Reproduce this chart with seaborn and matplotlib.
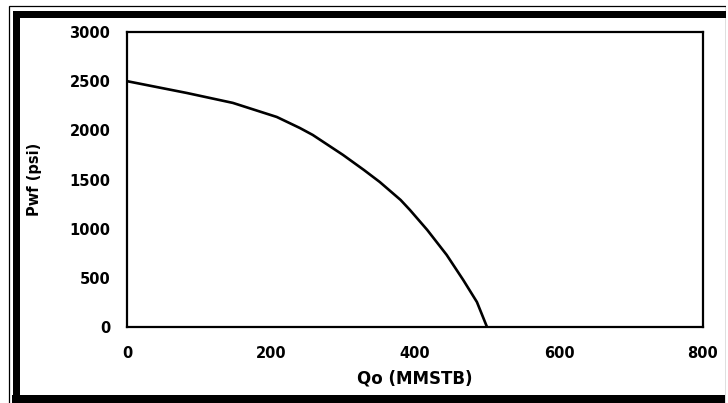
import numpy as np
import pandas as pd
import matplotlib
matplotlib.use("Agg")
import matplotlib.pyplot as plt
import seaborn as sns
from matplotlib.patches import Rectangle

# values
qo = [0, 83, 147, 208, 240, 258, 300, 329, 351, 380, 393, 417, 444, 467, 486, 500]
pwf = [2500, 2380, 2279, 2136, 2024, 1953, 1750, 1597, 1475, 1292, 1190, 987, 733, 478, 254, 0]

x_ticks = [0, 200, 400, 600, 800]
y_ticks = [0, 500, 1000, 1500, 2000, 2500, 3000]

df = pd.DataFrame({"Qo": qo, "Pwf": pwf})

sns.set_style("white")
plt.rcParams["font.family"] = ["DejaVu Sans"]
plt.rcParams["text.color"] = "black"
plt.rcParams["axes.labelcolor"] = "black"
plt.rcParams["xtick.color"] = "black"
plt.rcParams["ytick.color"] = "black"

W, H = 728, 403
fig = plt.figure(figsize=(W / 100, H / 100), dpi=100)
ax = fig.add_axes([127 / W, 1 - 327 / H, 576 / W, 295 / H])

sns.lineplot(data=df, x="Qo", y="Pwf", color="black", linewidth=1.9, ax=ax)

ax.set_xlim(0, 800)
ax.set_ylim(0, 3000)
ax.set_xticks(x_ticks)
ax.set_yticks(y_ticks)
ax.tick_params(axis="both", direction="out", length=3, width=1.2, color="black",
               labelcolor="black", labelsize=10.5)
ax.tick_params(axis="y", pad=9)
ax.tick_params(axis="x", pad=11)
for lab in ax.get_xticklabels() + ax.get_yticklabels():
    lab.set_fontweight("bold")
ax.set_xlabel("Qo (MMSTB)", fontsize=12, fontweight="bold", color="black")
ax.set_ylabel("Pwf (psi)", fontsize=10.5, fontweight="bold", color="black")
ax.xaxis.set_label_coords(0.5, (327 - 370) / 295)
ax.yaxis.set_label_coords((42 - 127) / 576, 0.5)
for sp in ax.spines.values():
    sp.set_visible(True)
    sp.set_color("black")
    sp.set_linewidth(1.6)

# picture frame around the chart
fig.patches.append(Rectangle((8.5 / W, -0.1), 717 / W, 0.1 + (H - 6.5) / H,
                             transform=fig.transFigure, fill=False,
                             edgecolor="black", linewidth=0.9))
fig.patches.append(Rectangle((16 / W, -0.1), 2.0, 0.1 + (H - 13.5) / H,
                             transform=fig.transFigure, fill=False,
                             edgecolor="black", linewidth=5.04))
fig.patches.append(Rectangle((726 / W, 0), 2 / W, 1, transform=fig.transFigure,
                             facecolor="white", edgecolor="none"))
fig.patches.append(Rectangle((12 / W, 0), 713 / W, 8.5 / H, transform=fig.transFigure,
                             facecolor="black", edgecolor="none"))

fig.savefig("out.png", dpi=100)
